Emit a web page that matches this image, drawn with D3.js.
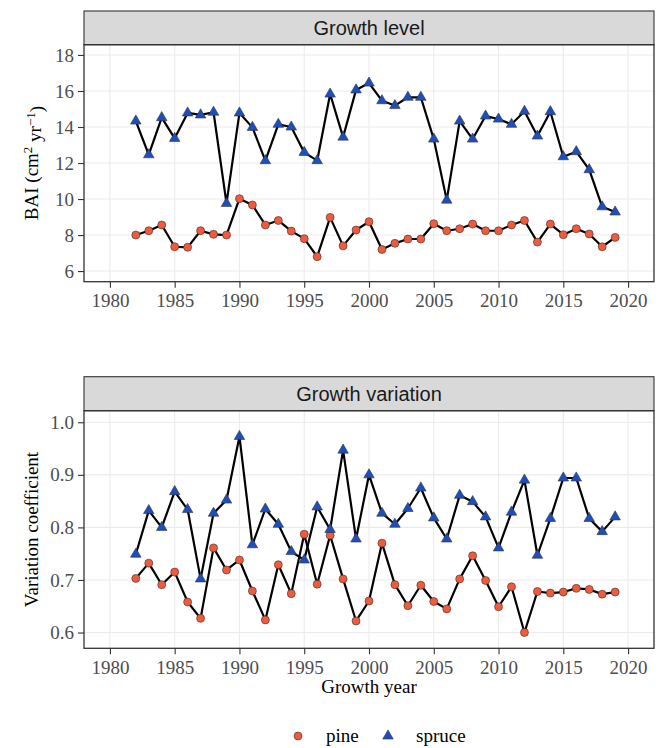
<!DOCTYPE html>
<meta charset="utf-8">
<style>
body { margin: 0; background: #fff; }
.axis path { display: none; }
.axis line { stroke: #333; stroke-width: 1.1px; }
.grid line { stroke: #ebebeb; stroke-width: 1.1px; }
.strip text {
    font-family: "Liberation Sans", Arial, sans-serif;
    font-size: 20px;
    fill: #1a1a1a;
}
.label {
    font-family: "Liberation Serif", "Times New Roman", serif;
    font-size: 19px;
    fill: #000;
}
</style>
<body>
<script src="https://d3js.org/d3.v7.min.js"></script>
<script>

// data
var years = [1982, 1983, 1984, 1985, 1986, 1987, 1988, 1989, 1990, 1991,
             1992, 1993, 1994, 1995, 1996, 1997, 1998, 1999, 2000, 2001,
             2002, 2003, 2004, 2005, 2006, 2007, 2008, 2009, 2010, 2011,
             2012, 2013, 2014, 2015, 2016, 2017, 2018, 2019];

var pineBAI = [8.00, 8.24, 8.56, 7.35, 7.32, 8.24, 8.04, 8.00, 10.02, 9.67,
               8.56, 8.81, 8.22, 7.80, 6.80, 8.98, 7.40, 8.28, 8.74, 7.20,
               7.54, 7.78, 7.78, 8.63, 8.24, 8.35, 8.61, 8.24, 8.24, 8.56,
               8.81, 7.61, 8.61, 8.02, 8.35, 8.06, 7.35, 7.87];

var spruceBAI = [14.33, 12.46, 14.52, 13.37, 14.78, 14.67, 14.82, 9.76, 14.78, 13.98,
                 12.13, 14.15, 14.00, 12.59, 12.13, 15.83, 13.44, 16.06, 16.44, 15.46,
                 15.19, 15.65, 15.65, 13.33, 9.94, 14.33, 13.33, 14.61, 14.44, 14.15,
                 14.87, 13.50, 14.85, 12.35, 12.63, 11.63, 9.57, 9.28];

var pineCV = [0.703, 0.732, 0.691, 0.715, 0.658, 0.627, 0.761, 0.719, 0.738, 0.679,
              0.624, 0.729, 0.674, 0.787, 0.692, 0.785, 0.702, 0.622, 0.660, 0.770,
              0.691, 0.651, 0.690, 0.659, 0.645, 0.702, 0.746, 0.699, 0.649, 0.687,
              0.600, 0.678, 0.675, 0.677, 0.684, 0.682, 0.673, 0.677];

var spruceCV = [0.749, 0.832, 0.800, 0.868, 0.834, 0.702, 0.827, 0.852, 0.973, 0.767,
                0.835, 0.806, 0.754, 0.738, 0.839, 0.796, 0.947, 0.778, 0.900, 0.827,
                0.806, 0.836, 0.875, 0.818, 0.778, 0.861, 0.849, 0.820, 0.761, 0.829,
                0.890, 0.747, 0.817, 0.894, 0.894, 0.817, 0.792, 0.820];

var xTicks = [1980, 1985, 1990, 1995, 2000, 2005, 2010, 2015, 2020];
var baiTicks = [6, 8, 10, 12, 14, 16, 18];
var cvTicks = [0.6, 0.7, 0.8, 0.9, 1.0];

var pineColor = "#f15a3a",
    spruceColor = "#1c4fbd";

var left = 84, right = 654;
var serif = '"Liberation Serif", "Times New Roman", serif';

var svg = d3.select("body").append("svg")
    .attr("width", 666)
    .attr("height", 748);

var x = d3.scaleLinear().domain([1978, 2022]).range([left, right]);

function styleAxis(g) {
  g.attr("font-family", serif).attr("font-size", 19);
  g.selectAll("text")
      .style("font-family", serif)
      .style("font-size", "19px")
      .style("fill", "#4d4d4d");
}

function drawPanel(title, stripTop, top, bottom, yDomain, yTicks, yFormat, pine, spruce) {
  var y = d3.scaleLinear().domain(yDomain).range([bottom, top]);

  // grid
  var grid = svg.append("g").attr("class", "grid");
  grid.selectAll(".gx").data(xTicks).enter().append("line")
      .attr("x1", function(d) { return x(d); })
      .attr("x2", function(d) { return x(d); })
      .attr("y1", top).attr("y2", bottom);
  grid.selectAll(".gy").data(yTicks).enter().append("line")
      .attr("x1", left).attr("x2", right)
      .attr("y1", function(d) { return y(d); })
      .attr("y2", function(d) { return y(d); });

  // strip
  var strip = svg.append("g").attr("class", "strip");
  strip.append("rect")
      .attr("x", left).attr("y", stripTop)
      .attr("width", right - left).attr("height", top - stripTop)
      .style("fill", "#d9d9d9")
      .style("stroke", "#333")
      .style("stroke-width", 1.1);
  strip.append("text")
      .attr("x", (left + right) / 2)
      .attr("y", (stripTop + top) / 2)
      .attr("dy", ".36em")
      .style("text-anchor", "middle")
      .text(title);

  // axes
  svg.append("g")
      .attr("class", "axis")
      .attr("transform", "translate(0," + bottom + ")")
      .call(d3.axisBottom(x).tickValues(xTicks).tickFormat(d3.format("d"))
          .tickSize(6).tickPadding(6))
      .call(styleAxis);

  svg.append("g")
      .attr("class", "axis")
      .attr("transform", "translate(" + left + ",0)")
      .call(d3.axisLeft(y).tickValues(yTicks).tickFormat(yFormat)
          .tickSize(6).tickPadding(4))
      .call(styleAxis);

  // panel border
  svg.append("rect")
      .attr("x", left).attr("y", top)
      .attr("width", right - left).attr("height", bottom - top)
      .style("fill", "none")
      .style("stroke", "#333")
      .style("stroke-width", 1.3);

  var line = d3.line()
      .x(function(d, i) { return x(years[i]); })
      .y(function(d) { return y(d); });

  [pine, spruce].forEach(function(s) {
    svg.append("path")
        .datum(s)
        .attr("d", line)
        .style("fill", "none")
        .style("stroke", "#000")
        .style("stroke-width", 2.2)
        .style("stroke-linejoin", "round");
  });

  svg.append("g").selectAll("circle")
      .data(pine)
      .enter().append("circle")
        .attr("cx", function(d, i) { return x(years[i]); })
        .attr("cy", function(d) { return y(d); })
        .attr("r", 4)
        .style("fill", pineColor)
        .style("stroke", "#333")
        .style("stroke-width", 0.6);

  svg.append("g").selectAll("path")
      .data(spruce)
      .enter().append("path")
        .attr("d", d3.symbol().type(d3.symbolTriangle).size(48))
        .attr("transform", function(d, i) {
          return "translate(" + x(years[i]) + "," + y(d) + ")";
        })
        .style("fill", spruceColor)
        .style("stroke", "#333")
        .style("stroke-width", 0.6);

  return y;
}

drawPanel("Growth level", 11, 44.7, 281.7, [5.41, 18.57], baiTicks,
          d3.format("d"), pineBAI, spruceBAI);
drawPanel("Growth variation", 376.7, 410.7, 648.3, [0.570, 1.022], cvTicks,
          d3.format(".1f"), pineCV, spruceCV);

// y axis titles
var t1 = svg.append("text")
    .attr("class", "label")
    .attr("transform", "translate(38,163) rotate(-90)")
    .style("text-anchor", "middle");
t1.append("tspan").text("BAI (cm");
t1.append("tspan").attr("dy", "-0.45em").style("font-size", "13px").text("2");
t1.append("tspan").attr("dy", "0.45em").text(" yr");
t1.append("tspan").attr("dy", "-0.45em").style("font-size", "13px").text("\u22121");
t1.append("tspan").attr("dy", "0.45em").text(")");

svg.append("text")
    .attr("class", "label")
    .attr("transform", "translate(38,529.5) rotate(-90)")
    .style("text-anchor", "middle")
    .text("Variation coefficient");

// x axis title
svg.append("text")
    .attr("class", "label")
    .attr("x", (left + right) / 2)
    .attr("y", 693)
    .style("text-anchor", "middle")
    .text("Growth year");

// legend
var legend = svg.append("g");
legend.append("circle")
    .attr("cx", 298).attr("cy", 736).attr("r", 4)
    .style("fill", pineColor).style("stroke", "#333").style("stroke-width", 0.6);
legend.append("path")
    .attr("d", d3.symbol().type(d3.symbolTriangle).size(48))
    .attr("transform", "translate(388,736)")
    .style("fill", spruceColor).style("stroke", "#333").style("stroke-width", 0.6);
legend.append("text").attr("class", "label")
    .attr("x", 326).attr("y", 742).text("pine");
legend.append("text").attr("class", "label")
    .attr("x", 416).attr("y", 742).text("spruce");

</script>
</body>
